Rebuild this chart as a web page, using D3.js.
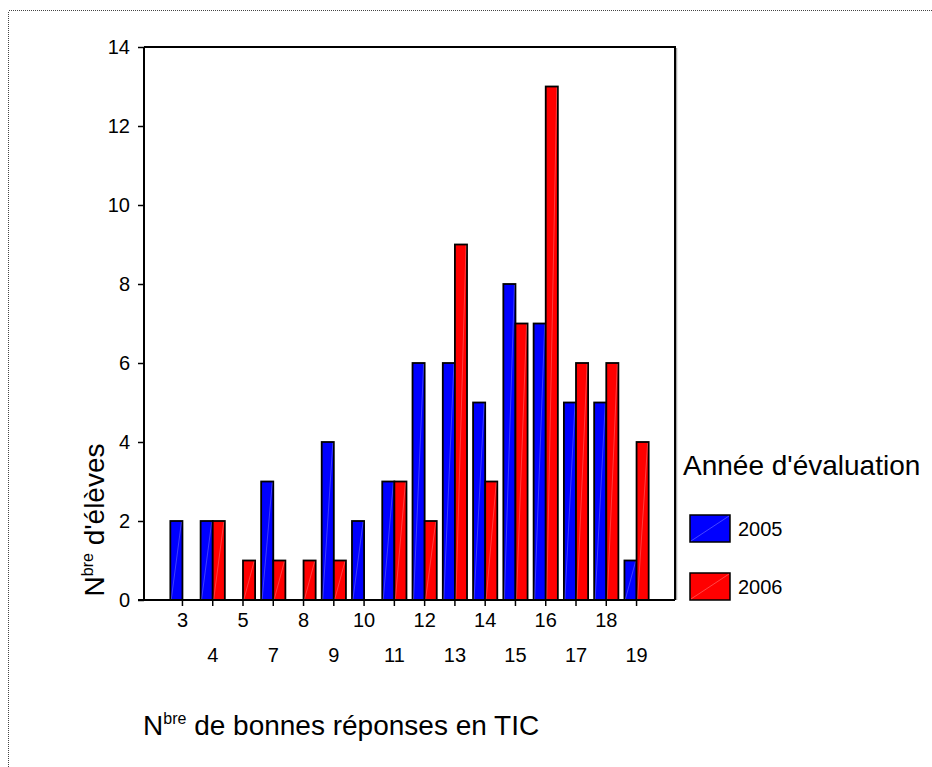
<!DOCTYPE html>
<html>
<head>
<meta charset="utf-8">
<script src="https://cdn.jsdelivr.net/npm/d3@7"></script>
<style>
  body { margin: 0; background: #fff; }
  text { font-family: "Liberation Sans", Arial, sans-serif; fill: #000; }
</style>
</head>
<body>
<div id="chart"></div>
<script>

var categories = ["3","4","5","7","8","9","10","11","12","13","14","15","16","17","18","19"];
var values2005 = [2,2,0,3,0,4,2,3,6,6,5,8,7,5,5,1];
var values2006 = [0,2,1,1,1,1,0,3,2,9,3,7,13,6,6,4];
var seriesNames = ["2005","2006"];
var seriesColors = ["#0000ff","#ff0000"];
var yTicks = [0,2,4,6,8,10,12,14];

var width = 932, height = 767;
var plotL = 144, plotR = 675, plotT = 47, plotB = 600;

var svg = d3.select("#chart")
  .append("svg")
  .attr("width", width)
  .attr("height", height);

// dotted outer frame
svg.append("rect")
  .attr("x", 8.5)
  .attr("y", 10.5)
  .attr("width", width)
  .attr("height", height)
  .attr("fill", "none")
  .attr("stroke", "#444")
  .attr("stroke-width", 1)
  .attr("shape-rendering", "crispEdges")
  .attr("stroke-dasharray", "1,1");

var x = d3.scaleBand()
  .domain(categories)
  .range([plotL, plotR])
  .paddingInner(0)
  .paddingOuter(0.77);

var x1 = d3.scaleBand()
  .domain(seriesNames)
  .range([x.bandwidth() * 0.1, x.bandwidth() * 0.9]);

var y = d3.scaleLinear()
  .domain([0, 14])
  .range([plotB, plotT]);

var rows = categories.map(function(c, i) {
  return { cat: c, vals: [values2005[i], values2006[i]] };
});

// plot box shadow + frame (top and right)
svg.append("path")
  .attr("d", "M" + (plotR + 1.5) + "," + (plotT + 1) + "V" + plotB)
  .attr("stroke", "#aaa")
  .attr("stroke-width", 1.5)
  .attr("fill", "none");
svg.append("path")
  .attr("d", "M" + plotL + "," + plotT + "H" + plotR + "V" + plotB)
  .attr("stroke", "#000")
  .attr("stroke-width", 2)
  .attr("fill", "none");

// bars
var groups = svg.append("g").selectAll("g").data(rows)
  .enter()
  .append("g")
  .attr("transform", function(d) { return "translate(" + x(d.cat) + ",0)"; });

groups.each(function(d) {
  var g = d3.select(this);
  d.vals.forEach(function(v, j) {
    if (v <= 0) return;
    var bx = x1(seriesNames[j]), bw = x1.bandwidth();
    g.append("rect")
      .attr("x", bx)
      .attr("y", y(v))
      .attr("width", bw)
      .attr("height", y(0) - y(v))
      .attr("fill", seriesColors[j])
      .attr("stroke", "#000")
      .attr("stroke-width", 1.8);
    g.append("line")
      .attr("x1", bx + 1)
      .attr("y1", y(0) - 1)
      .attr("x2", bx + bw - 1)
      .attr("y2", y(v) + 1)
      .attr("stroke", "#fff")
      .attr("stroke-opacity", 0.3)
      .attr("stroke-width", 0.8);
  });
});

// y axis
var yAxis = svg.append("g")
  .attr("transform", "translate(" + plotL + ",0)")
  .call(d3.axisLeft(y).tickValues(yTicks).tickSize(6).tickPadding(8).tickFormat(d3.format("d")));
yAxis.select(".domain").attr("stroke-width", 2).attr("d", "M0," + plotT + "V" + plotB);
yAxis.selectAll(".tick line").attr("stroke-width", 1.5);
yAxis.selectAll(".tick text")
  .style("font-size", "20px")
  .attr("font-family", null);

// x axis
var xAxis = svg.append("g")
  .attr("transform", "translate(0," + plotB + ")")
  .call(d3.axisBottom(x).tickSize(6).tickPadding(8));
xAxis.select(".domain").attr("stroke-width", 2).attr("d", "M" + (plotL - 6) + ",0H" + plotR);
xAxis.selectAll(".tick line").attr("stroke-width", 1.5);
xAxis.selectAll(".tick text")
  .style("font-size", "20px")
  .attr("font-family", null)
  .attr("dy", "0.71em")
  .attr("y", function(d, i) { return i % 2 === 0 ? 13 : 48; });

// y title
var yTitle = svg.append("text")
  .attr("transform", "translate(104,520)rotate(-90)")
  .attr("text-anchor", "middle")
  .style("font-size", "28px");
yTitle.append("tspan").text("N");
yTitle.append("tspan").attr("dy", -11).style("font-size", "16px").text("bre");
yTitle.append("tspan").attr("dy", 11).text(" d'élèves");

// x title
var xTitle = svg.append("text")
  .attr("x", 143)
  .attr("y", 735)
  .style("font-size", "28px");
xTitle.append("tspan").text("N");
xTitle.append("tspan").attr("dy", -11).style("font-size", "16px").text("bre");
xTitle.append("tspan").attr("dy", 11).text(" de bonnes réponses en TIC");

// legend
var legend = svg.append("g").attr("class", "legend");
legend.append("text")
  .attr("x", 683)
  .attr("y", 475)
  .style("font-size", "28px")
  .text("Année d'évaluation");

legend.selectAll("g.item").data(seriesNames)
  .enter()
  .append("g")
  .attr("class", "item")
  .each(function(d, i) {
    var g = d3.select(this);
    var ly = 515 + i * 58;
    g.append("rect")
      .attr("x", 690)
      .attr("y", ly)
      .attr("width", 40)
      .attr("height", 27)
      .attr("fill", seriesColors[i])
      .attr("stroke", "#000")
      .attr("stroke-width", 1.5);
    g.append("line")
      .attr("x1", 691).attr("y1", ly + 26)
      .attr("x2", 729).attr("y2", ly + 1)
      .attr("stroke", "#fff")
      .attr("stroke-opacity", 0.35)
      .attr("stroke-width", 0.8);
    g.append("text")
      .attr("x", 738)
      .attr("y", ly + 21)
      .style("font-size", "20px")
      .text(d);
  });

</script>
</body>
</html>
